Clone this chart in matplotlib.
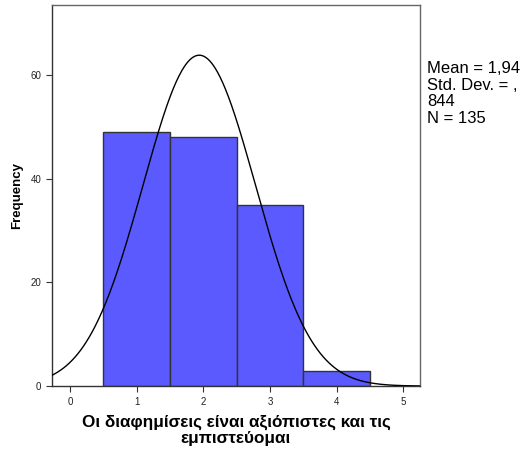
import numpy as np
import matplotlib.pyplot as plt

plt.rcParams['font.family'] = ['Liberation Sans', 'DejaVu Sans']

# histogram data (bin centres and counts)
bin_centers = [1, 2, 3, 4]
counts = [49, 48, 35, 3]
bin_width = 1.0
mean = 1.94
std = 0.844
n = 135

x_ticks = [0, 1, 2, 3, 4, 5]
y_ticks = [0, 20, 40, 60]

fig = plt.figure(figsize=(5.29, 4.5), dpi=100)
ax = fig.add_axes([0.098, 0.142, 0.696, 0.847])

ax.bar(bin_centers, counts, width=bin_width, color='#5a5aff',
       edgecolor='#333333', linewidth=1.0, zorder=2)

xs = np.linspace(-0.3, 5.3, 400)
pdf = n * bin_width / (std * np.sqrt(2 * np.pi)) * np.exp(-0.5 * ((xs - mean) / std) ** 2)
ax.plot(xs, pdf, color='black', linewidth=1.0, zorder=3)

ax.set_xlim(-0.27, 5.25)
ax.set_ylim(0, 73.5)
ax.set_xticks(x_ticks)
ax.set_yticks(y_ticks)
ax.tick_params(labelsize=7, length=4, color='#333333', labelcolor='#222222')

for s in ax.spines.values():
    s.set_color('#666666')
    s.set_linewidth(1.0)
ax.spines['left'].set_color('#333333')
ax.spines['bottom'].set_color('#333333')

ax.set_ylabel('Frequency', fontsize=9.5, fontweight='bold', labelpad=5)
ax.set_xlabel('Οι διαφημίσεις είναι αξιόπιστες και τις\nεμπιστεύομαι',
              fontsize=12.3, fontweight='bold', linespacing=1.05, labelpad=6)

fig.text(0.808, 0.864, 'Mean = 1,94\nStd. Dev. = ,\n844\nN = 135',
         fontsize=12, va='top', ha='left', linespacing=1.12)

fig.savefig('out.png', dpi=100)
